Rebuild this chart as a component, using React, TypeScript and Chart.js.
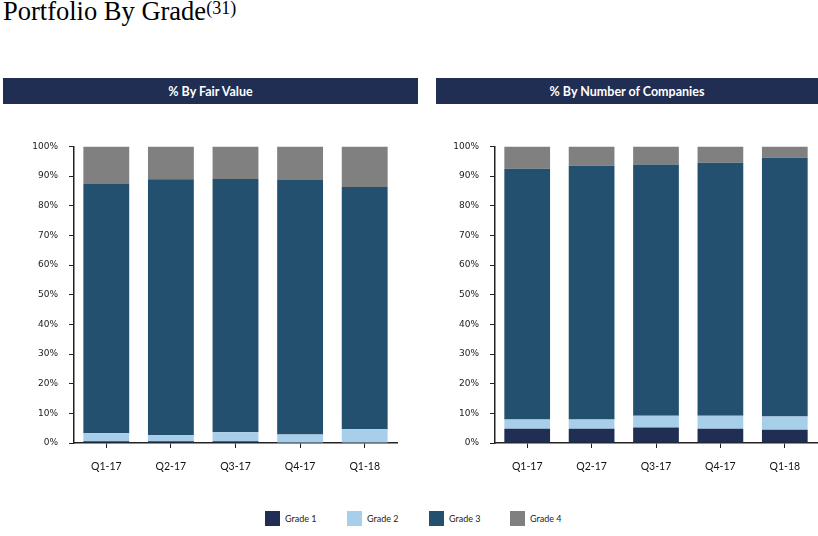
import React, { useEffect, useRef } from "react";
import { Chart, registerables } from "chart.js";

Chart.register(...registerables);

const categories = ["Q1-17", "Q2-17", "Q3-17", "Q4-17", "Q1-18"];
const gradeLabels = ["Grade 1", "Grade 2", "Grade 3", "Grade 4"];
const gradeColors = ["#1F2E52", "#A7CFEA", "#23506F", "#808080"];
const yTicks = [0, 10, 20, 30, 40, 50, 60, 70, 80, 90, 100];

// % By Fair Value
const fvGrade1 = [0.6, 0.6, 0.6, 0.2, 0.2];
const fvGrade2 = [2.7, 2.0, 3.0, 2.7, 4.4];
const fvGrade3 = [84.2, 86.3, 85.4, 85.8, 81.7];
const fvGrade4 = [12.5, 11.1, 11.0, 11.3, 13.7];

// % By Number of Companies
const ncGrade1 = [4.8, 4.8, 5.2, 4.8, 4.5];
const ncGrade2 = [3.1, 3.1, 4.0, 4.4, 4.4];
const ncGrade3 = [84.6, 85.6, 84.7, 85.3, 87.3];
const ncGrade4 = [7.5, 6.5, 6.1, 5.5, 3.8];

function StackChart(props: { series: number[][]; yWidth: number; rightPad: number; style: React.CSSProperties; w: number; h: number }) {
  const ref = useRef<HTMLCanvasElement | null>(null);
  useEffect(() => {
    if (!ref.current) return;
    const chart = new Chart(ref.current, {
      type: "bar",
      data: {
        labels: categories,
        datasets: props.series.map((d, i) => ({
          label: gradeLabels[i],
          data: d,
          backgroundColor: gradeColors[i],
          borderWidth: 0,
          barPercentage: 0.71,
          categoryPercentage: 1,
        })),
      },
      options: {
        animation: false,
        responsive: false,
        maintainAspectRatio: false,
        layout: { padding: { top: 14, right: props.rightPad, left: 0, bottom: 0 } },
        plugins: { legend: { display: false }, tooltip: { enabled: false } },
        scales: {
          x: {
            stacked: true,
            grid: { display: true, drawOnChartArea: false, drawTicks: true, tickLength: 5, offset: false, color: "#222" },
            border: { display: true, color: "#222", width: 1.5 },
            ticks: { color: "#111", font: { family: "Lato", size: 10.5 }, padding: 12 },
            afterFit: (s: any) => { s.height = 39; },
          },
          y: {
            stacked: true,
            min: 0,
            max: 100,
            afterBuildTicks: (s: any) => { s.ticks = yTicks.map((v) => ({ value: v })); },
            grid: { display: true, drawOnChartArea: false, drawTicks: true, tickLength: 5, color: "#222" },
            border: { display: true, color: "#222", width: 1.5 },
            ticks: { color: "#1a1a1a", font: { family: "DejaVu Sans", size: 9 }, padding: 11, callback: (v: any) => v + "%" },
            afterFit: (s: any) => { s.width = props.yWidth; },
          },
        },
      },
    });
    return () => chart.destroy();
  }, []);
  return <canvas ref={ref} width={props.w} height={props.h} style={{ position: "absolute", ...props.style }} />;
}

const headerStyle: React.CSSProperties = {
  position: "absolute",
  top: 78,
  height: 26,
  background: "#1F2E52",
  color: "#fff",
  fontFamily: "Lato, 'Open Sans', sans-serif",
  fontWeight: 700,
  fontSize: 12.5,
  display: "flex",
  alignItems: "center",
  justifyContent: "center",
};

export default function App() {
  return (
    <div style={{ position: "absolute", left: 0, top: 0, width: 818, height: 536, background: "#fff", overflow: "hidden" }}>
      <div style={{ position: "absolute", left: 3, top: -4, fontFamily: "'Liberation Serif', serif", fontSize: 26.5, color: "#000", whiteSpace: "nowrap" }}>
        Portfolio By Grade<span style={{ fontSize: 18, verticalAlign: "6px" }}>(31)</span>
      </div>
      <div style={{ ...headerStyle, left: 3, width: 415 }}>% By Fair Value</div>
      <div style={{ ...headerStyle, left: 436, width: 382 }}>% By Number of Companies</div>
      <StackChart series={[fvGrade1, fvGrade2, fvGrade3, fvGrade4]} yWidth={74} rightPad={13} w={410} h={352} style={{ left: 0, top: 130 }} />
      <StackChart series={[ncGrade1, ncGrade2, ncGrade3, ncGrade4]} yWidth={75} rightPad={1} w={398} h={352} style={{ left: 420, top: 130 }} />
      {gradeLabels.map((g, i) => (
        <div key={g} style={{ position: "absolute", left: [265, 347, 429, 510][i], top: 511, display: "flex", alignItems: "center", fontFamily: "Lato, sans-serif", fontSize: 9, color: "#222" }}>
          <span style={{ display: "inline-block", width: 15, height: 15, background: gradeColors[i], marginRight: 5 }} />
          {g}
        </div>
      ))}
    </div>
  );
}
